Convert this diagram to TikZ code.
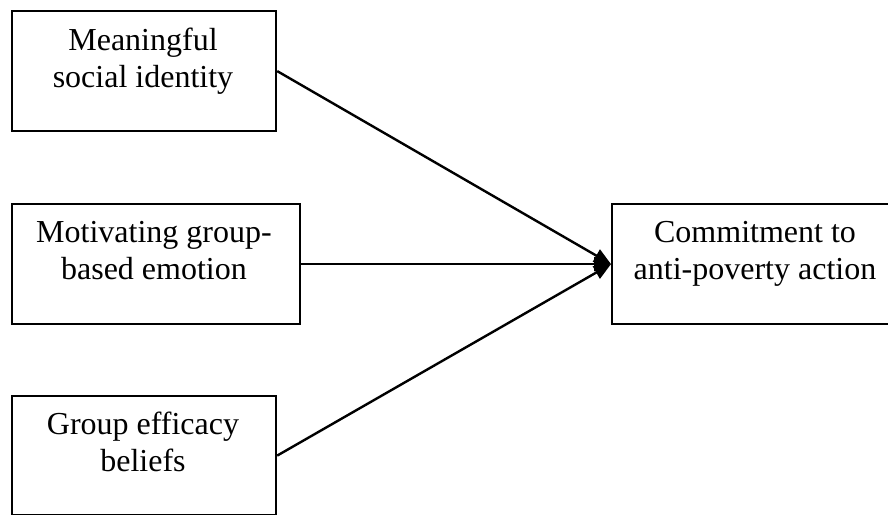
\documentclass[tikz,border=0pt]{standalone}
\usepackage{fontspec}
\setmainfont{Liberation Serif}
\usetikzlibrary{arrows.meta}
\begin{document}
\begin{tikzpicture}[x=0.5pt,y=-0.5pt,
  boxnode/.style={draw=black, line width=1.1pt, rectangle, inner sep=0pt, anchor=north west},
  lbl/.style={align=center, anchor=base, inner sep=0pt, font=\fontsize{16pt}{18.5pt}\selectfont},
  conn/.style={line width=1.2pt, -{Triangle[length=8.5pt,width=7pt]}}]
\useasboundingbox (0,0) rectangle (888,514);
\node[boxnode, minimum width=132pt, minimum height=60pt] (b1) at (11,10) {};
\node[boxnode, minimum width=144pt, minimum height=60pt] (b2) at (11,203) {};
\node[boxnode, minimum width=132pt, minimum height=59.5pt] (b3) at (11,395) {};
\node[boxnode, minimum width=144pt, minimum height=60pt] (b4) at (611,203) {};
\node[lbl] (t1) at (143,87) {Meaningful\\social identity};
\node[lbl] (t2) at (154,279) {Motivating group-\\based emotion};
\node[lbl] (t3) at (143,471) {Group efficacy\\beliefs};
\node[lbl] (t4) at (755,279) {Commitment to\\anti-poverty action};
\draw[conn] (b1.east) -- (b4.west);
\draw[conn] (b2.east) -- (b4.west);
\draw[conn] (b3.east) -- (b4.west);
\end{tikzpicture}
\end{document}
